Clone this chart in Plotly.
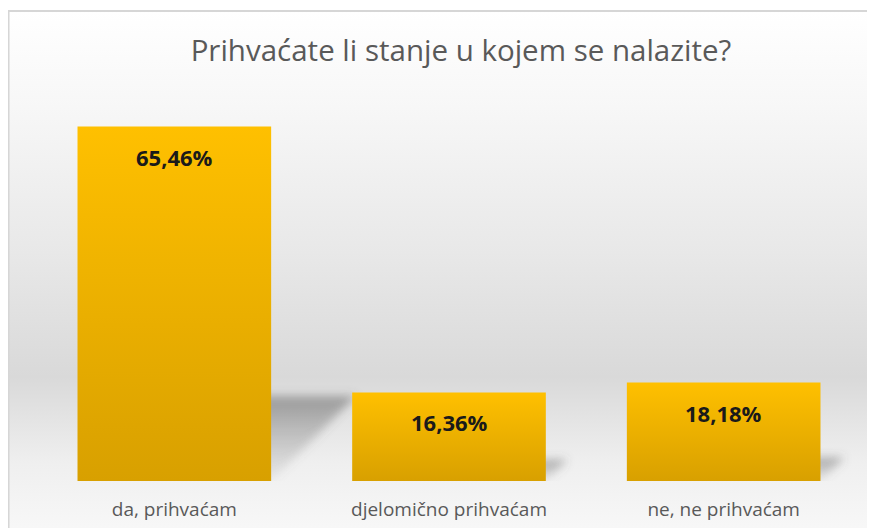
import base64
import plotly.graph_objects as go

categories = ["da, prihvaćam", "djelomično prihvaćam", "ne, ne prihvaćam"]
values = [65.46, 16.36, 18.18]
labels = ["65,46%", "16,36%", "18,18%"]
title = "Prihvaćate li stanje u kojem se nalazite?"

W, H = 875, 528
OFF = 8  # page body margin
M = dict(l=36.5 - OFF, r=875 - 861.5 + OFF, t=102 - OFF, b=528 - 481 + OFF)
PW = W - M["l"] - M["r"]
PH = H - M["t"] - M["b"]
Y_MAX = 70
BAR_W = 0.705
SHADOW_K = 0.24

GOLD_TOP = "#FFC000"
GOLD_BOT = "#D8A000"
GREY_TXT = "#595959"
FONT = "Open Sans"

UX = 3 / PW      # data units per pixel, x
UY = Y_MAX / PH  # data units per pixel, y


def svg_uri(svg):
    return "data:image/svg+xml;base64," + base64.b64encode(svg.encode()).decode()


# chart-area background: grey vertical gradient with thin border (Excel style)
bg_svg = """<svg xmlns='http://www.w3.org/2000/svg' width='900' height='540'>
<defs><linearGradient id='g' x1='0' y1='0' x2='0' y2='1'>
<stop offset='0' stop-color='#FFFFFF'/>
<stop offset='0.18' stop-color='#F7F7F7'/>
<stop offset='0.45' stop-color='#E8E8E8'/>
<stop offset='0.68' stop-color='#D9D9D9'/>
<stop offset='0.84' stop-color='#EFEFEF'/>
<stop offset='1' stop-color='#FAFAFA'/>
</linearGradient></defs>
<rect x='1' y='1' width='898' height='538' fill='url(#g)' stroke='#D6D6D6' stroke-width='2'/>
</svg>"""


def shadow_svg(dx, dy, pad):
    w, h = dx + 20 + 2 * pad, dy + 2 * pad
    pts = f"{pad},{pad + dy} {pad + 20},{pad + dy} {pad + 20 + dx},{pad} {pad},{pad}"
    return f"""<svg xmlns='http://www.w3.org/2000/svg' width='{w:.1f}' height='{h:.1f}'>
<defs><linearGradient id='s' x1='0' y1='0' x2='0' y2='1'>
<stop offset='0' stop-color='#555555' stop-opacity='0.5'/>
<stop offset='1' stop-color='#777777' stop-opacity='0.08'/>
</linearGradient>
<filter id='b' x='-50%' y='-50%' width='200%' height='200%'><feGaussianBlur stdDeviation='5'/></filter></defs>
<polygon points='{pts}' fill='url(#s)' filter='url(#b)'/>
</svg>"""


def px_x(p):
    return (p - OFF - M["l"]) / PW


def px_y(p):
    return (H - M["b"] - (p - OFF)) / PH


fig = go.Figure()

fig.add_layout_image(dict(
    source=svg_uri(bg_svg), xref="paper", yref="paper",
    x=px_x(7), y=px_y(10), sizex=900 / PW, sizey=540 / PH,
    xanchor="left", yanchor="top", sizing="stretch", layer="below",
))

# soft perspective shadows behind the bars
PAD = 15
for i, v in enumerate(values):
    h_px = v / UY
    d = SHADOW_K * h_px
    xr = i + BAR_W / 2
    fig.add_layout_image(dict(
        source=svg_uri(shadow_svg(d, d, PAD)), xref="x", yref="y",
        x=xr - (20 + PAD) * UX, y=(d + PAD) * UY,
        sizex=(d + 20 + 2 * PAD) * UX, sizey=(d + 2 * PAD) * UY,
        xanchor="left", yanchor="top", sizing="stretch", layer="below",
    ))

# bars with vertical gold gradient
for i, v in enumerate(values):
    x0, x1 = i - BAR_W / 2, i + BAR_W / 2
    fig.add_trace(go.Scatter(
        x=[x0, x1, x1, x0, x0], y=[0, 0, v, v, 0],
        fill="toself", mode="lines", line=dict(width=0),
        fillgradient=dict(type="vertical", colorscale=[[0, GOLD_BOT], [0.75, "#F5B800"], [1, GOLD_TOP]]),
        name=categories[i], hoverinfo="name", showlegend=False,
    ))

for i, (v, t) in enumerate(zip(values, labels)):
    fig.add_annotation(x=i, y=v, text=f"<b>{t}</b>", showarrow=False,
                       yanchor="top", yshift=-13,
                       font=dict(family=FONT, size=22, color="#1A1A1A"))

fig.update_layout(
    width=W, height=H, margin=M,
    paper_bgcolor="white", plot_bgcolor="rgba(0,0,0,0)",
    title=dict(text=title, x=px_x(461), xref="paper", xanchor="center",
               y=1 - (51 - OFF) / H, yanchor="middle",
               font=dict(family=FONT, size=29.5, color=GREY_TXT)),
    xaxis=dict(range=[-0.5, 2.5], tickvals=[0, 1, 2], ticktext=categories,
               showgrid=False, zeroline=False, showline=False, ticks="",
               ticklabelstandoff=15,
               tickfont=dict(family=FONT, size=19, color=GREY_TXT), fixedrange=True),
    yaxis=dict(range=[0, Y_MAX], visible=False, fixedrange=True),
)

fig.write_html("out.html")
